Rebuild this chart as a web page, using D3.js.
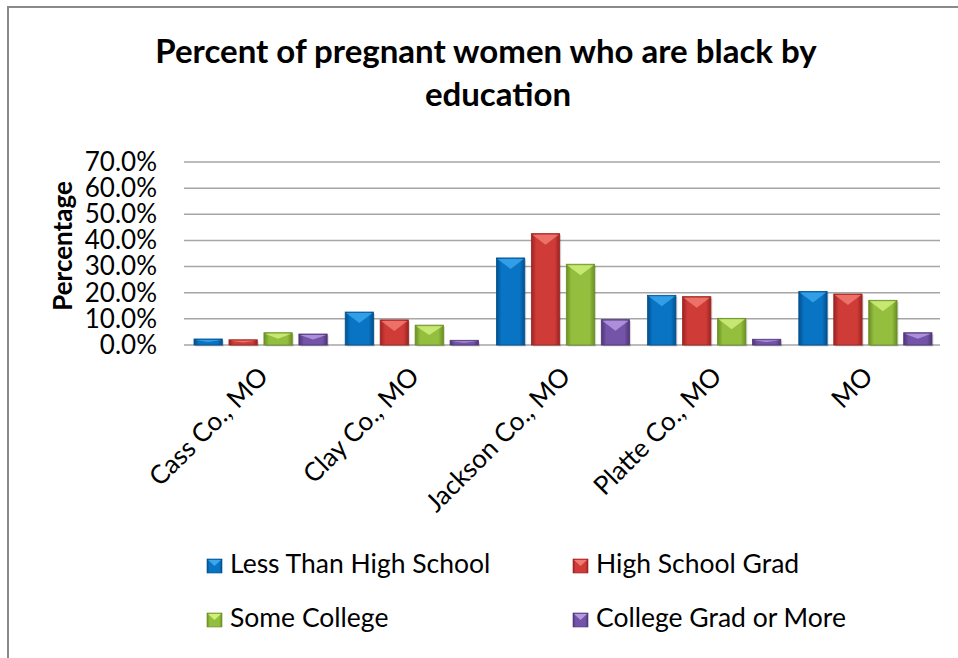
<!DOCTYPE html>
<html><head><meta charset="utf-8">
<script src="https://cdn.jsdelivr.net/npm/d3@7"></script>
<style>html,body{margin:0;padding:0;background:#fff;}svg{display:block;}</style>
</head><body>
<script>
const categories = ["Cass Co., MO","Clay Co., MO","Jackson Co., MO","Platte Co., MO","MO"];
const seriesNames = ["Less Than High School","High School Grad","Some College","College Grad or More"];
const lessThanHS   = [2.3, 12.6, 33.3, 19.0, 20.5];
const hsGrad       = [2.0,  9.6, 42.6, 18.5, 19.5];
const someCollege  = [4.7,  7.6, 30.9, 10.2, 17.1];
const collegeGrad  = [4.2,  1.8,  9.7,  2.2,  4.7];
const yTicks = [0,10,20,30,40,50,60,70];
const seriesValues = [lessThanHS, hsGrad, someCollege, collegeGrad];
const colors = [
  {dark:"#00508f", mid:"#0a74c4", light:"#3aa6ec"},
  {dark:"#9c2320", mid:"#cf3c38", light:"#f07a72"},
  {dark:"#6a8f22", mid:"#93be3e", light:"#cfef7a"},
  {dark:"#4e3678", mid:"#7454a8", light:"#b59ae0"}
];
const W=958,H=658;
const font = "Lato, 'Open Sans', sans-serif";
const svg = d3.select("body").append("svg").attr("width",W).attr("height",H);
const defs = svg.append("defs");
colors.forEach((c,i)=>{
  const g = defs.append("linearGradient").attr("id","g"+i).attr("x1","0").attr("x2","1").attr("y1","0").attr("y2","0");
  g.append("stop").attr("offset","0%").attr("stop-color",c.dark);
  g.append("stop").attr("offset","18%").attr("stop-color",c.mid);
  g.append("stop").attr("offset","82%").attr("stop-color",c.mid);
  g.append("stop").attr("offset","100%").attr("stop-color",c.dark);
});
// border
svg.append("path").attr("d","M8,658 L8,7 L958,7").attr("fill","none").attr("stroke","#8a8a8a").attr("stroke-width",2);

// title
const title = svg.append("text").attr("text-anchor","middle").attr("font-family",font).attr("font-weight","bold").attr("font-size",33).attr("fill","#000");
title.append("tspan").attr("x",486).attr("y",63).text("Percent of pregnant women who are black by");
title.append("tspan").attr("x",498).attr("y",106).text("education");

const pLeft=184,pRight=940,pTop=162,pBottom=345;
const x0 = d3.scaleBand().domain(categories).range([pLeft,pRight]);
const x1 = d3.scaleBand().domain(d3.range(4)).range([10, x0.bandwidth()-8]).paddingInner(0.19);
const y = d3.scaleLinear().domain([0,70]).range([pBottom,pTop]);

// gridlines
svg.append("g").selectAll("line").data(yTicks).join("line")
  .attr("x1",pLeft).attr("x2",pRight).attr("y1",d=>y(d)).attr("y2",d=>y(d))
  .attr("stroke","#a6a6a6").attr("stroke-width",1.5);

// y axis
const yAxis = svg.append("g").attr("transform",`translate(${pLeft},0)`)
  .call(d3.axisLeft(y).tickValues(yTicks).tickFormat(d=>d.toFixed(1)+"%").tickSize(0).tickPadding(27));
yAxis.select(".domain").remove();
yAxis.selectAll("text").attr("font-family",font).attr("font-size",26).attr("fill","#000");

svg.append("text").attr("transform","translate(72,246) rotate(-90)").attr("text-anchor","middle")
  .attr("font-family",font).attr("font-weight","bold").attr("font-size",26).text("Percentage");

// bars
const groups = svg.append("g").selectAll("g").data(categories).join("g")
  .attr("transform",d=>`translate(${x0(d)},0)`);
groups.each(function(cat,ci){
  const g = d3.select(this);
  seriesValues.forEach((vals,si)=>{
    const v = vals[ci];
    const bx = x1(si), bw = x1.bandwidth(), by = y(v), bh = y(0)-y(v);
    g.append("rect").attr("x",bx+1.5).attr("y",by+1.5).attr("width",bw).attr("height",bh)
      .attr("fill","#000").attr("opacity",0.15);
    g.append("rect").attr("x",bx).attr("y",by).attr("width",bw).attr("height",bh)
      .attr("fill",`url(#g${si})`).attr("stroke",colors[si].dark).attr("stroke-width",0.8);
    const d = Math.min(11, bh*0.5);
    g.append("path").attr("d",`M${bx+1},${by+1} L${bx+bw-1},${by+1} L${bx+bw/2},${by+d} Z`)
      .attr("fill",colors[si].light).attr("opacity",0.85);
  });
});

// x labels
svg.append("g").selectAll("text").data(categories).join("text")
  .attr("transform",d=>`translate(${x0(d)+x0.bandwidth()/2+10},${378}) rotate(-45)`)
  .attr("text-anchor","end").attr("font-family",font).attr("font-size",26).attr("fill","#000")
  .text(d=>d);

// legend
const legPos = [[207,573],[573,573],[207,627],[573,627]];
const leg = svg.append("g").selectAll("g").data(seriesNames).join("g")
  .attr("transform",(d,i)=>`translate(${legPos[i][0]},${legPos[i][1]})`);
leg.append("rect").attr("x",0).attr("y",-14).attr("width",15).attr("height",14)
  .attr("fill",(d,i)=>`url(#g${i})`).attr("stroke",(d,i)=>colors[i].dark).attr("stroke-width",0.6);
leg.append("path").attr("d","M1,-13 L14,-13 L7.5,-7 Z").attr("fill",(d,i)=>colors[i].light);
leg.append("text").attr("x",23).attr("y",0).attr("font-family",font).attr("font-size",26.5).attr("fill","#000").text(d=>d);
</script>
</body></html>
